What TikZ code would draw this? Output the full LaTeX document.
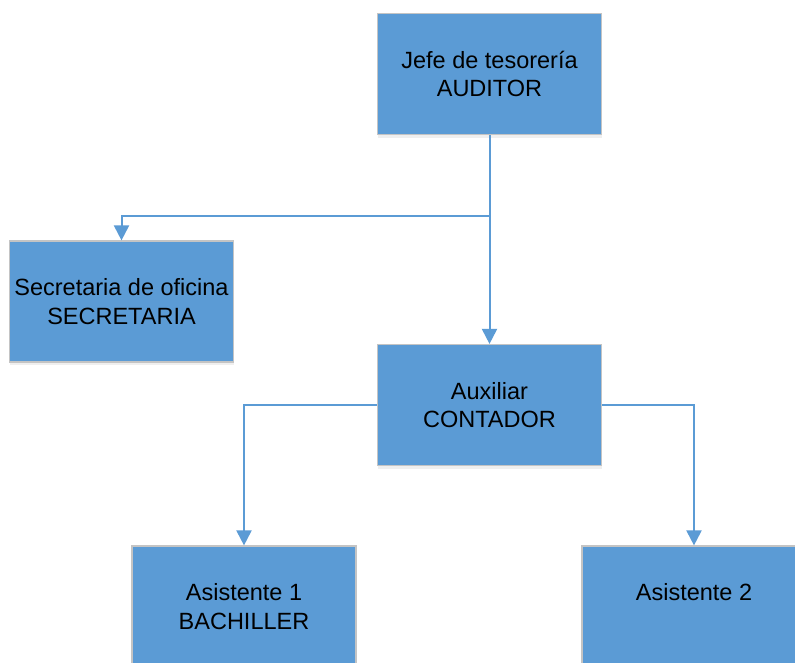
\documentclass[tikz,border=0pt]{standalone}
\usepackage{fontspec}
\setmainfont{Liberation Sans}
\usetikzlibrary{arrows.meta,shadows}
\definecolor{boxblue}{HTML}{5B9BD5}
\definecolor{boxedge}{HTML}{C4C4C4}
\begin{document}
\begin{tikzpicture}[x=1pt,y=-1pt,
  orgbox/.style={draw=boxedge, line width=1.2pt, fill=boxblue,
    minimum width=224pt, minimum height=121pt, inner sep=0pt,
    align=center, text=black, font=\fontsize{23.5}{28.5}\selectfont,
    drop shadow={opacity=0.12, shadow xshift=0pt, shadow yshift=-3pt}},
  link/.style={draw=boxblue, line width=2pt},
  tip/.style={-{Triangle[length=15pt,width=15pt]}}]
\path[use as bounding box, clip] (0,0) rectangle (795,662);
\fill[white] (0,0) rectangle (795,662);

% Boxes of the chart
\node[orgbox] (jefe) at (489.5,74) {Jefe de tesorería\\AUDITOR};
\node[orgbox] (secretaria) at (121.5,301.5) {Secretaria de oficina\\SECRETARIA};
\node[orgbox] (auxiliar) at (489.5,405) {Auxiliar\\CONTADOR};
\node[orgbox] (asis1) at (244,606.5) {Asistente 1\\BACHILLER};
\node[orgbox] (asis2) at (694,606.5) {Asistente 2\\\mbox{}};

% Connectors
\coordinate (bus) at (0,216);
\draw[link,tip] (jefe.south) -- (auxiliar.north);
\draw[link,tip] (jefe.south |- bus) -| (secretaria.north);
\draw[link,tip] (auxiliar.west) -| (asis1.north);
\draw[link,tip] (auxiliar.east) -| (asis2.north);
\end{tikzpicture}
\end{document}
